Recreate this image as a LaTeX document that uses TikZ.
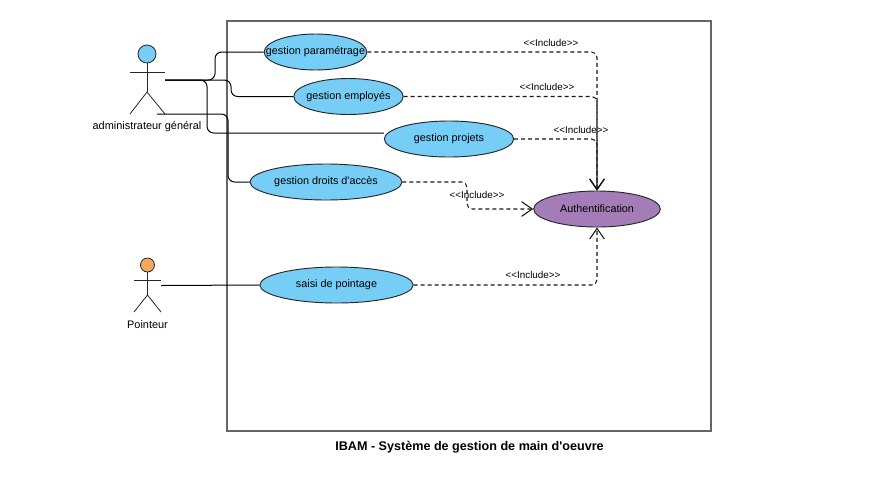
\documentclass[tikz,border=0pt]{standalone}
\usepackage{fontspec}
\setmainfont{Liberation Sans}
\usetikzlibrary{arrows.meta,shapes.geometric}
\definecolor{usecaseblue}{HTML}{76CDF5}
\definecolor{authpurple}{HTML}{A47DB8}
\definecolor{headorange}{HTML}{F5A860}
\definecolor{framegray}{HTML}{666666}
\def\drawassoc{\draw[color=black, line width=0.75pt, rounded corners=5pt]}
\def\drawinclude{\draw[color=black!90, line width=0.8pt, dash pattern=on 3pt off 2.25pt, rounded corners=4pt, -{Straight Barb[length=8pt,width=11pt]}]}
\def\drawactor{\draw[color=black!85, line width=0.6pt]}
\def\usecasenode{\node[draw=black!85,line width=0.7pt,ellipse,fill=usecaseblue,inner sep=0pt,minimum height=27pt,font=\fontsize{8.1}{9}\selectfont]}
\def\labelnode{\node[inner sep=0pt,font=\fontsize{7.4}{8}\selectfont]}
\def\uctext#1{\makebox[0pt]{#1}}

\begin{document}
\begin{tikzpicture}[x=0.75pt,y=-0.75pt]
\useasboundingbox (0,0) rectangle (896,494);
\draw[color=framegray, line width=1.5pt] (227,21) rectangle (711,431);
\usecasenode[minimum width=77pt] (param) at (315.5,52) {\uctext{gestion paramétrage}};
\usecasenode[minimum width=82pt] (employes) at (348.5,96.5) {\uctext{gestion employés}};
\usecasenode[minimum width=97pt] (projets) at (449,139) {\uctext{gestion projets}};
\usecasenode[minimum width=114pt] (droits) at (326,182) {\uctext{gestion droits d\textquotesingle accès}};
\usecasenode[minimum width=115pt] (saisie) at (336.5,285) {\uctext{saisi de pointage}};
\usecasenode[minimum width=95pt,fill=authpurple] (auth) at (597,209) {\uctext{Authentification}};
\node[circle,draw=black!85,fill=usecaseblue,inner sep=0pt,minimum size=13.5pt,line width=0.6pt] (adminhead) at (147,54) {};
\coordinate (adminhip) at (147,92);
\drawactor (adminhead) -- (adminhip);
\drawactor (130,72.5) -- (165,72.5);
\drawactor (130,114) -- (adminhip) -- (165,114);
\node[inner sep=0pt,font=\fontsize{8.2}{9}\selectfont] (adminlabel) at (147,127) {administrateur général};
\node[circle,draw=black!85,fill=headorange,inner sep=0pt,minimum size=10.5pt,line width=0.6pt] (pointhead) at (147.5,265) {};
\coordinate (pointhip) at (147.5,295);
\drawactor (pointhead) -- (pointhip);
\drawactor (134,280) -- (161,280);
\drawactor (134,312) -- (pointhip) -- (161,312);
\node[inner sep=0pt,font=\fontsize{8.2}{9}\selectfont] (pointlabel) at (147.5,325) {Pointeur};
\coordinate (adminarm) at (165,80);
\coordinate (adminleg) at (157,114);
\coordinate (pointarm) at (161,285.5);
\drawassoc (adminarm) -- (215,80) -- (215,52) -- (param.west);
\drawassoc (adminarm) -- (231,80) -- (231,96.5) -- (employes.west);
\drawassoc (adminarm) -- (207,80) -- (207,133) -- (projets.west |- 0,133);
\drawassoc (adminleg) -- (228,114) -- (228,182) -- (droits.west);
\drawassoc (pointarm) -- (saisie.west);
\drawinclude (param.east) -- (597,52) -- (auth.north);
\drawinclude (employes.east) -- (597,96.5) -- (auth.north);
\drawinclude (projets.east) -- (597,139) -- (auth.north);
\drawinclude (droits.east) -- (467,182) -- (467,209) -- (auth.west);
\drawinclude (saisie.east) -- (597,285) -- (auth.south);
\labelnode (inc1) at (551,43) {<{}<Include>{}>};
\labelnode (inc2) at (547,87) {<{}<Include>{}>};
\labelnode (inc3) at (581,129.5) {<{}<Include>{}>};
\labelnode (inc4) at (477,194.5) {<{}<Include>{}>};
\labelnode (inc5) at (533,275) {<{}<Include>{}>};
\node[inner sep=0pt,font=\bfseries\fontsize{9.45}{11}\selectfont] (title) at (469.5,447) {IBAM - Système de gestion de main d\textquotesingle oeuvre};
\end{tikzpicture}
\end{document}
